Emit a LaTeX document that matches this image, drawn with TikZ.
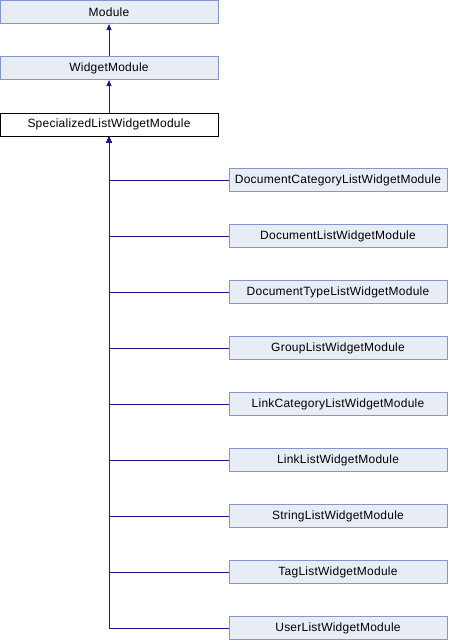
\documentclass[tikz,border=0pt]{standalone}
\usepackage{fontspec}
\setmainfont{Liberation Sans}[LetterSpace=2]
\usetikzlibrary{arrows.meta}
\definecolor{nodefill}{HTML}{E8ECF5}
\definecolor{nodeborder}{HTML}{8497CC}
\definecolor{edgeblue}{HTML}{1A1A8C}
\begin{document}
\begin{tikzpicture}[x=1pt,y=-1pt,
  cls/.style={draw=nodeborder,fill=nodefill,line width=1pt,minimum width=218pt,minimum height=23pt,inner sep=0pt,font=\fontsize{12pt}{13pt}\selectfont},
  cur/.style={cls,draw=black,fill=white},
  inh/.style={draw=edgeblue,line width=1pt,-{Triangle[length=6pt,width=5pt]}}]
\useasboundingbox (0,0) rectangle (448,640);
\node[cls] (mod) at (109,12) {Module};
\node[cls] (wid) at (109,68) {WidgetModule};
\node[cur] (spec) at (109,124.5) {SpecializedListWidgetModule};
\node[cls] (c1) at (338,180) {DocumentCategoryListWidgetModule};
\node[cls] (c2) at (338,236) {DocumentListWidgetModule};
\node[cls] (c3) at (338,292) {DocumentTypeListWidgetModule};
\node[cls] (c4) at (338,348) {GroupListWidgetModule};
\node[cls] (c5) at (338,404) {LinkCategoryListWidgetModule};
\node[cls] (c6) at (338,460) {LinkListWidgetModule};
\node[cls] (c7) at (338,516) {StringListWidgetModule};
\node[cls] (c8) at (338,572) {TagListWidgetModule};
\node[cls] (c9) at (338,628) {UserListWidgetModule};
\draw[inh] (wid) -- (mod);
\draw[inh] (spec) -- (wid);
\foreach \c in {c1,c2,c3,c4,c5,c6,c7,c8,c9}
  \draw[inh] (\c.west) -| (spec.south);
\end{tikzpicture}
\end{document}
